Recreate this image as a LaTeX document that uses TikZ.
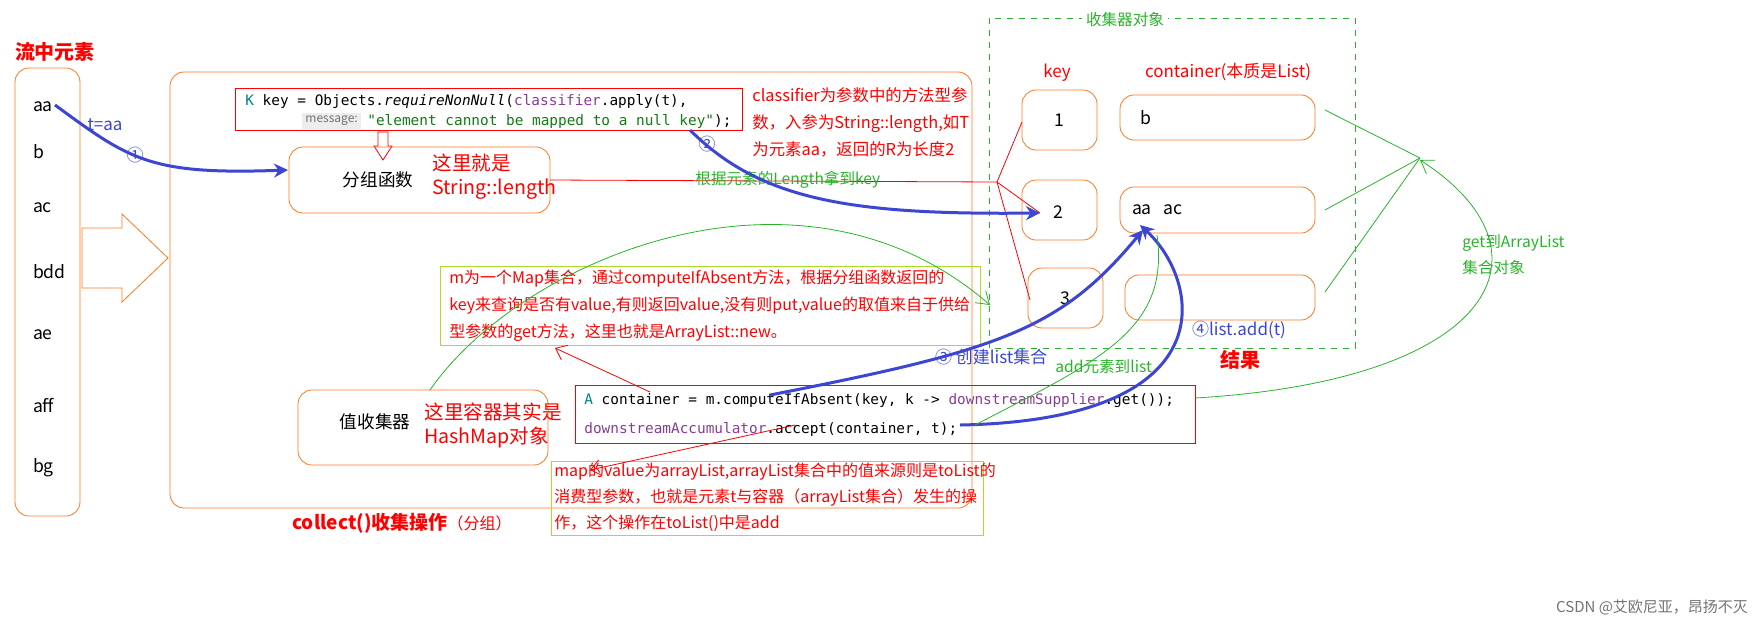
\documentclass[tikz,border=0pt]{standalone}
\usepackage{fontspec}
\setmainfont{Noto Sans CJK SC}
\newfontfamily\codef{DejaVu Sans Mono}
\usetikzlibrary{arrows.meta}
\definecolor{org}{RGB}{255,120,30}
\definecolor{grn}{RGB}{40,180,40}
\definecolor{blu}{RGB}{60,70,210}
\definecolor{lime}{RGB}{170,220,40}
\definecolor{purp}{RGB}{135,60,150}
\definecolor{cgrn}{RGB}{20,120,20}
\tikzset{
 obox/.style={draw=org,rounded corners=7pt},
 rtxt/.style={text=red,font=\fontsize{8.5}{12}\selectfont,align=left,anchor=west,inner sep=0},
 gtxt/.style={text=grn,font=\fontsize{7.8}{10}\selectfont,inner sep=0},
 btxt/.style={text=black,font=\fontsize{8.8}{10}\selectfont},
 barrow/.style={draw=blu,line width=1.5pt,-{Stealth[length=7pt,width=7pt]}},
 garrow/.style={draw=grn,line width=0.4pt,-{Straight Barb[length=6pt,width=8pt]}},
 rline/.style={draw=red,line width=0.4pt},
 code/.style={font=\codef\fontsize{7.2}{9}\selectfont,anchor=west,inner sep=0},
}
\begin{document}
\begin{tikzpicture}[x=0.5pt,y=-0.5pt]
\useasboundingbox (0,0) rectangle (1762,628);
\node[text=red,font=\bfseries\fontsize{10}{12}\selectfont] (t0) at (55,52) {流中元素};
\draw[obox] (15,68) rectangle (80,516);
\foreach \n/\t/\y in {ea/aa/107,eb/b/152,ec/ac/208,ed/bdd/272,ee/ae/335,ef/aff/405,eg/bg/468}
  \node[btxt,anchor=west] (\n) at (26,\y) {\t};
\draw[obox] (170,72) rectangle (972,508);
\draw[draw=org] (82,228) -- (122,228) -- (122,214) -- (168,258) -- (122,302) -- (122,288) -- (82,288) -- cycle;
% code box 1
\draw[draw=red] (235,88) rectangle (742,130);
\node[code] (c1) at (245,101) {\textcolor{teal}{K} key = Objects.\textit{requireNonNull}(\textcolor{purp}{classifier}.apply(t),};
\node[code,fill=black!7,text=black!55,font=\fontsize{6}{8}\selectfont,inner sep=1.5pt] (msg) at (302,121) {message:};
\node[code] (c1b) at (367,121) {\textcolor{cgrn}{"element cannot be mapped to a null key"});};
\draw[draw=red] (378,132) -- (378,146) -- (374,146) -- (383,160) -- (392,146) -- (388,146) -- (388,132) -- cycle;
\draw[obox] (289,147) rectangle (550,213);
\node[btxt] (fz) at (378,180) {分组函数};
\node[rtxt,font=\fontsize{9.8}{12}\selectfont] (fzr) at (432,177) {这里就是\\String::length};
\node[rtxt,font=\fontsize{8.2}{13.5}\selectfont] (cls) at (752,122) {classifier为参数中的方法型参\\数，入参为String::length,如T\\为元素aa，返回的R为长度2};
% result region
\draw[draw=grn,dashed] (989,18) rectangle (1355,348);
\node[gtxt,fill=white,inner sep=2pt] (sj) at (1125,20) {收集器对象};
\node[rtxt,anchor=center] (kk) at (1057,73) {key};
\node[rtxt,anchor=center] (ct) at (1228,72) {container(本质是List)};
\draw[obox] (1022,90) rectangle (1097,150) node[midway,btxt] (k1) {1};
\draw[obox] (1022,180) rectangle (1097,240);
\node[btxt] (k2) at (1058,212) {2};
\draw[obox] (1028,268) rectangle (1103,328) node[midway,btxt] (k3) {3};
\draw[obox] (1120,95) rectangle (1315,140);
\node[btxt,anchor=west] (v1) at (1133,118) {b};
\draw[obox] (1120,187) rectangle (1315,233);
\node[btxt,anchor=west] (v2) at (1125,210) {aa\ \ \ ac};
\draw[obox] (1125,275) rectangle (1315,320);
\coordinate (fan) at (997,182);
\draw[rline] (550,180) -- (fan) -- (1022,122);
\draw[rline] (fan) -- (1040,213);
\draw[rline] (fan) -- (1030,300);
\node[gtxt,anchor=west] (len) at (695,180) {根据元素的Length拿到key};
\coordinate (hub) at (1420,158);
\draw[grn,line width=0.4pt] (1325,110) -- (hub);
\draw[grn,line width=0.4pt] (1325,210) -- (hub);
\draw[grn,line width=0.4pt] (1325,292) -- (hub);
\draw[garrow] (1195,398) .. controls (1500,380) and (1560,250) .. (1420,160);
\node[gtxt,align=left,anchor=west,font=\fontsize{7.8}{13}\selectfont] (get) at (1462,255) {get到ArrayList\\集合对象};
\node[text=red,font=\bfseries\fontsize{10}{12}\selectfont] (jg) at (1240,360) {结果};
% text box m
\draw[draw=lime] (440,266) rectangle (980,345);
\node[rtxt,font=\fontsize{8}{13.5}\selectfont] (mt) at (449,306) {m为一个Map集合，通过computeIfAbsent方法，根据分组函数返回的\\key来查询是否有value,有则返回value,没有则put,value的取值来自于供给\\型参数的get方法，这里也就是ArrayList::new。};
% value collector
\draw[obox] (298,390) rectangle (548,465);
\node[btxt] (zs) at (375,422) {值收集器};
\node[rtxt,font=\fontsize{9.8}{12}\selectfont] (zsr) at (424,425) {这里容器其实是\\HashMap对象};
\draw[garrow] (430,390) .. controls (520,260) and (800,140) .. (990,305);
% code box 2
\draw[draw=red] (575,385) rectangle (1195,443);
\node[code] (c2) at (584,401) {\textcolor{teal}{A} container = m.computeIfAbsent(key, k -> \textcolor{purp}{downstreamSupplier}.get());};
\node[code] (c2b) at (584,429) {\textcolor{purp}{downstreamAccumulator}.accept(container, t);};
% text box 3
\draw[draw=lime] (551,461) rectangle (983,535);
\node[rtxt,font=\fontsize{8}{13}\selectfont] (mv) at (554,497) {map的value为arrayList,arrayList集合中的值来源则是toList的\\消费型参数，也就是元素t与容器（arrayList集合）发生的操\\作，这个操作在toList()中是add};
\node[anchor=west,inner sep=0] (col) at (292,523) {\textcolor{red}{\bfseries\fontsize{9.5}{12}\selectfont collect()收集操作}\textcolor{red}{\fontsize{8}{12}\selectfont（分组）}};
% red pointer arrows
\draw[rline,-{Straight Barb[length=5pt,width=8pt]}] (650,392) -- (555,348);
\draw[rline,-{Straight Barb[length=5pt,width=8pt]}] (795,425) -- (590,470);
% blue arrows
\draw[barrow] (55,105) .. controls (130,160) and (150,175) .. (288,170);
\node[text=blu,font=\fontsize{8.5}{10}\selectfont] (taa) at (105,125) {t=aa};
\node[text=blu,font=\fontsize{8.5}{10}\selectfont] (n1) at (135,155) {①};
\draw[barrow] (690,130) .. controls (760,200) and (850,215) .. (1040,213);
\node[text=blu,font=\fontsize{8.5}{10}\selectfont] (n2) at (707,144) {②};
\draw[barrow] (770,395) .. controls (1000,350) and (1060,330) .. (1143,230);
\node[text=blu,font=\fontsize{8.5}{10}\selectfont,anchor=west] (n3) at (928,357) {③ 创建list集合};
\draw[barrow] (960,425) .. controls (1230,420) and (1200,280) .. (1140,225);
\node[text=blu,font=\fontsize{8.5}{10}\selectfont,anchor=west] (n4) at (1185,330) {④list.add(t)};
\draw[grn,line width=0.4pt] (975,425) .. controls (1100,360) and (1170,330) .. (1157,235);
\node[gtxt,anchor=west] (add) at (1055,367) {add元素到list};
\node[text=black!55,font=\fontsize{7.5}{10}\selectfont,anchor=east] (wm) at (1755,607) {CSDN @艾欧尼亚，昂扬不灭};
\end{tikzpicture}
\end{document}
